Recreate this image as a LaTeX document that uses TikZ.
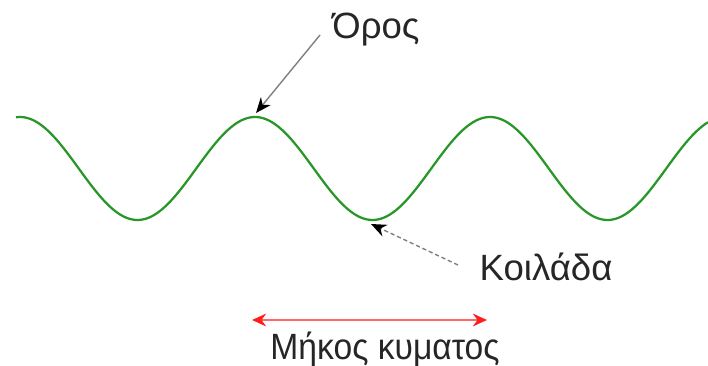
\documentclass[tikz,border=0pt]{standalone}
\usepackage{fontspec}
\setmainfont{Liberation Sans}
\usepackage{tikz}
\usetikzlibrary{arrows.meta}

\definecolor{wavegreen}{RGB}{40,150,40}
\definecolor{markred}{RGB}{255,30,30}

\begin{document}
\begin{tikzpicture}[
        x=0.025cm,
        y=-0.025cm,
        wave/.style={wavegreen, line width=1.6pt},
        pointer/.style={gray, line width=1pt, -{Stealth[length=11pt, width=9pt, black]}},
        label/.style={inner sep=0pt, font=\fontsize{26}{28}\selectfont, text=black!85}
    ]
        \useasboundingbox (0,0) rectangle (708,366);
        % the wave
        \draw[wave] plot[domain=16:708, samples=240] (\x, {168.5-51.5*cos((\x-20)/235*360)});
        \coordinate (crest) at (256,113);
        \coordinate (trough) at (371,224);
        \node[label] (oros) at (376,30) {Όρος};
        \node[label] (koilada) at (546,267) {Κοιλάδα};
        \draw[pointer] (320,35) -- (crest);
        \draw[pointer, densely dashed] (458,265) -- (trough);
        % wavelength
        \coordinate (wl0) at (252,320);
        \coordinate (wl1) at (487,320);
        \draw[red!60, line width=1.2pt, {Stealth[length=10pt, width=9pt, markred]}-{Stealth[length=10pt, width=9pt, markred]}] (wl0) -- (wl1);
        \node[label, xscale=0.92] (mikos) at (385,350) {Μήκος κυματος};
    \end{tikzpicture}
\end{document}
